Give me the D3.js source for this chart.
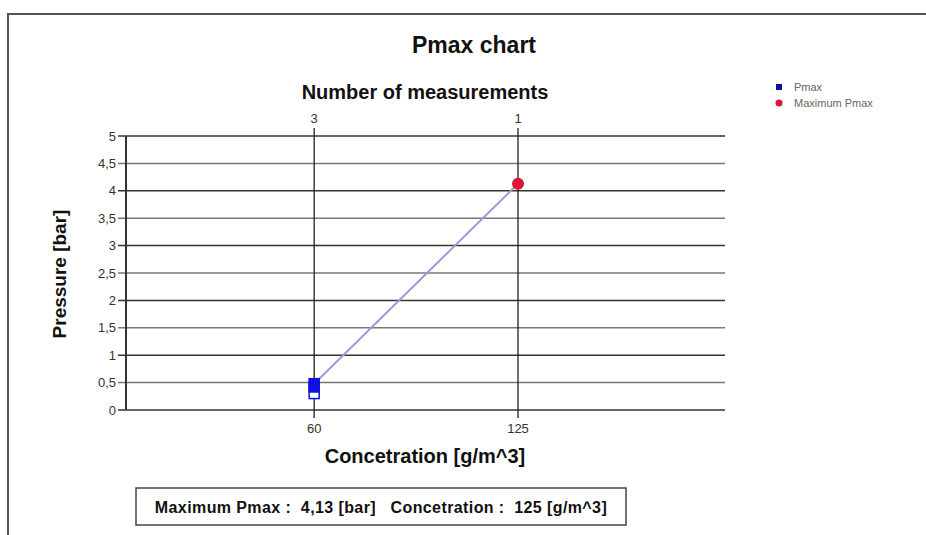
<!DOCTYPE html>
<html>
<head>
<meta charset="utf-8">
<script src="https://cdn.jsdelivr.net/npm/d3@7"></script>
<style>
  body { margin: 0; background: #fff; }
  svg { font-family: "Liberation Sans", Arial, sans-serif; }
</style>
</head>
<body>
<svg width="926" height="535"></svg>
<script>
// data
var concentrations = [60, 60, 60, 125];
var pressures = [0.48, 0.42, 0.3, 4.13];
var hollow = [false, false, true, false];
var measureCounts = [3, 1];
var countAt = [60, 125];
var maxLine = [[60, 0.48], [125, 4.13]];
var yTicks = [0, 0.5, 1, 1.5, 2, 2.5, 3, 3.5, 4, 4.5, 5];
var xTicks = [60, 125];
var legendNames = ["Pmax", "Maximum Pmax"];

var svg = d3.select("svg");

// outer frame
svg.append("path")
    .attr("d", "M8,535 L8,14 L926,14")
    .attr("fill", "none")
    .attr("stroke", "#555")
    .attr("stroke-width", 2);

var x = d3.scaleLinear().domain([0, 191]).range([126, 725]);
var y = d3.scaleLinear().domain([0, 5]).range([410, 136]);

var fmt = function(d) { return String(d).replace(".", ","); };

// horizontal grid lines
svg.append("g")
  .selectAll("line")
  .data(yTicks)
  .join("line")
    .attr("x1", 118)
    .attr("x2", 725)
    .attr("y1", function(d) { return y(d); })
    .attr("y2", function(d) { return y(d); })
    .attr("stroke", function(d) { return d % 1 ? "#777" : "#333"; })
    .attr("stroke-width", 1.5);

// vertical grid lines at the measured concentrations
svg.append("g")
  .selectAll("line")
  .data(xTicks)
  .join("line")
    .attr("x1", function(d) { return x(d); })
    .attr("x2", function(d) { return x(d); })
    .attr("y1", 128)
    .attr("y2", 418)
    .attr("stroke", "#222")
    .attr("stroke-width", 1.3);

// left axis line
svg.append("line")
    .attr("x1", 126).attr("x2", 126)
    .attr("y1", y(5)).attr("y2", y(0))
    .attr("stroke", "#333")
    .attr("stroke-width", 2);

// y tick labels
svg.append("g")
  .selectAll("text")
  .data(yTicks)
  .join("text")
    .attr("x", 116)
    .attr("y", function(d) { return y(d) + 4.5; })
    .attr("text-anchor", "end")
    .attr("font-size", 13)
    .attr("fill", "#333")
    .text(fmt);

// bottom tick labels
svg.append("g")
  .selectAll("text")
  .data(xTicks)
  .join("text")
    .attr("x", function(d) { return x(d); })
    .attr("y", 433)
    .attr("text-anchor", "middle")
    .attr("font-size", 13)
    .attr("fill", "#333")
    .text(function(d) { return d; });

// top tick labels (number of measurements)
svg.append("g")
  .selectAll("text")
  .data(measureCounts)
  .join("text")
    .attr("x", function(d, i) { return x(countAt[i]); })
    .attr("y", 123)
    .attr("text-anchor", "middle")
    .attr("font-size", 13)
    .attr("fill", "#333")
    .text(function(d) { return d; });

// line through maxima
svg.append("path")
    .datum(maxLine)
    .attr("d", d3.line().x(function(d) { return x(d[0]); }).y(function(d) { return y(d[1]); }))
    .attr("fill", "none")
    .attr("stroke", "#9a9ad8")
    .attr("stroke-width", 2);

// Pmax points (squares)
var pts = concentrations.map(function(c, i) { return { c: c, p: pressures[i], h: hollow[i] }; });
svg.append("g")
  .selectAll("rect")
  .data(pts.filter(function(d) { return d.c !== 125; }).reverse())
  .join("rect")
    .attr("x", function(d) { return x(d.c) - 5; })
    .attr("y", function(d) { return y(d.p) - 5; })
    .attr("width", 10)
    .attr("height", 10)
    .attr("fill", function(d) { return d.h ? "#fff" : "#1010e0"; })
    .attr("stroke", "#1010e0")
    .attr("stroke-width", 1.5);

// Maximum Pmax point
svg.append("g")
  .selectAll("circle")
  .data(pts.filter(function(d) { return d.c === 125; }))
  .join("circle")
    .attr("cx", function(d) { return x(d.c); })
    .attr("cy", function(d) { return y(d.p); })
    .attr("r", 6)
    .attr("fill", "#dc1438");

// titles
svg.append("text")
    .attr("x", 474).attr("y", 53)
    .attr("text-anchor", "middle")
    .attr("font-size", 23).attr("font-weight", "bold")
    .attr("fill", "#111")
    .text("Pmax chart");

svg.append("text")
    .attr("x", 425).attr("y", 99)
    .attr("text-anchor", "middle")
    .attr("font-size", 20).attr("font-weight", "bold")
    .attr("fill", "#111")
    .text("Number of measurements");

svg.append("text")
    .attr("x", 425).attr("y", 463)
    .attr("text-anchor", "middle")
    .attr("font-size", 20).attr("font-weight", "bold")
    .attr("fill", "#111")
    .text("Concetration [g/m^3]");

svg.append("text")
    .attr("transform", "translate(66,274) rotate(-90)")
    .attr("text-anchor", "middle")
    .attr("font-size", 19).attr("font-weight", "bold")
    .attr("fill", "#111")
    .text("Pressure [bar]");

// legend
var legend = svg.append("g").attr("transform", "translate(779,87)");
legend.append("rect")
    .attr("x", -3).attr("y", -3).attr("width", 6).attr("height", 6)
    .attr("fill", "#1010a0");
legend.append("circle")
    .attr("cx", 0).attr("cy", 16).attr("r", 3.5)
    .attr("fill", "#dc1438");
legend.selectAll("text")
  .data(legendNames)
  .join("text")
    .attr("x", 15)
    .attr("y", function(d, i) { return i * 16 + 4; })
    .attr("font-size", 11)
    .attr("fill", "#666")
    .text(function(d) { return d; });

// summary box
svg.append("rect")
    .attr("x", 136).attr("y", 488)
    .attr("width", 490).attr("height", 37)
    .attr("fill", "#fff")
    .attr("stroke", "#444")
    .attr("stroke-width", 1.5);

svg.append("text")
    .attr("x", 381).attr("y", 513)
    .attr("text-anchor", "middle")
    .attr("font-size", 16).attr("font-weight", "bold")
    .attr("letter-spacing", 0.4)
    .attr("fill", "#111")
    .attr("xml:space", "preserve")
    .style("white-space", "pre")
    .text("Maximum Pmax :  " + fmt(maxLine[1][1]) + " [bar]   Concetration :  " + maxLine[1][0] + " [g/m^3]");
</script>
</body>
</html>
